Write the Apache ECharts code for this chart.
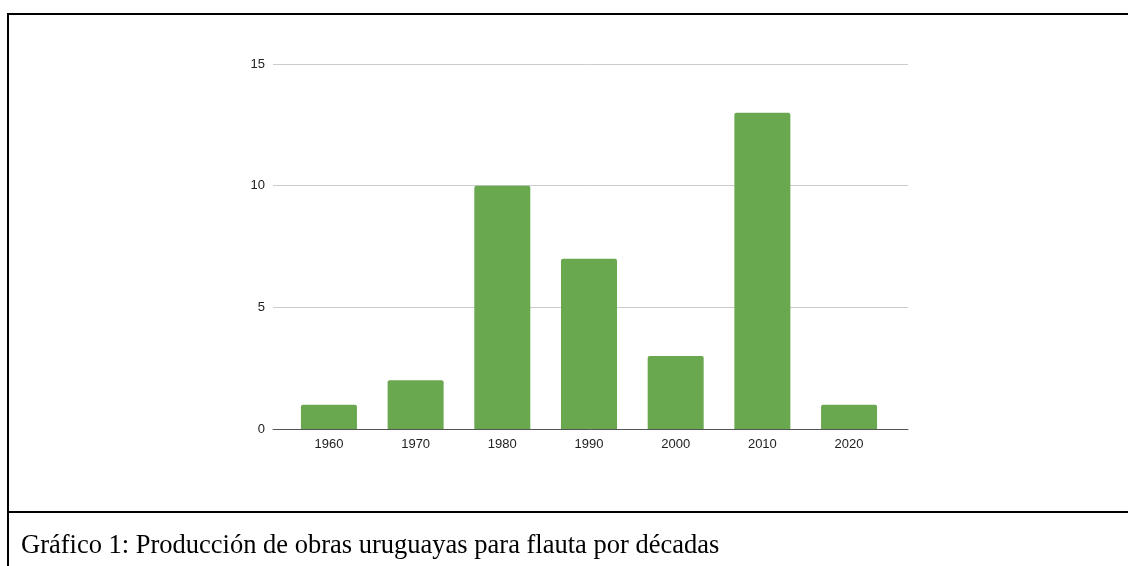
<!DOCTYPE html>
<html>
<head>
<meta charset="utf-8">
<script src="https://cdn.jsdelivr.net/npm/echarts@6/dist/echarts.min.js"></script>
<style>
  html, body { margin: 0; padding: 0; background: #fff; }
  #main { width: 1128px; height: 566px; }
</style>
</head>
<body>
<div id="main"></div>
<script>
// datos: obras por década
var decadas = ['1960', '1970', '1980', '1990', '2000', '2010', '2020'];
var obras = [1, 2, 10, 7, 3, 13, 1];
var ticksY = [0, 5, 10, 15];
var titulo = 'Gráfico 1: Producción de obras uruguayas para flauta por décadas';

var myChart = echarts.init(document.getElementById('main'));

var fuente = { color: '#222', fontSize: 13, fontFamily: 'Liberation Sans' };

var option = {
    animation: false,
    backgroundColor: '#fff',
    // grid 0: líneas de fondo y eje; grid 1: barras (con márgenes como en Sheets)
    grid: [
        { left: 273, right: 220, top: 64, bottom: 137 },
        { left: 285.6, right: 235.6, top: 64, bottom: 137 }
    ],
    xAxis: [{
        type: 'category',
        gridIndex: 0,
        data: decadas,
        axisLine: { lineStyle: { color: '#555', width: 1 } },
        axisTick: { show: false },
        axisLabel: { show: false }
    }, {
        type: 'category',
        gridIndex: 1,
        data: decadas,
        axisLine: { show: false },
        axisTick: { show: false },
        axisLabel: Object.assign({ margin: 9 }, fuente)
    }],
    yAxis: [{
        type: 'value',
        gridIndex: 0,
        min: ticksY[0],
        max: ticksY[ticksY.length - 1],
        interval: 5,
        axisLine: { show: false },
        axisTick: { show: false },
        axisLabel: Object.assign({ margin: 8 }, fuente),
        splitLine: { lineStyle: { color: '#cccccc' } }
    }, {
        type: 'value',
        gridIndex: 1,
        min: ticksY[0],
        max: ticksY[ticksY.length - 1],
        interval: 5,
        show: false
    }],
    series: [{
        type: 'bar',
        xAxisIndex: 1,
        yAxisIndex: 1,
        data: obras,
        barWidth: 56,
        itemStyle: { color: '#6aa84f', borderRadius: [2, 2, 0, 0] }
    }],
    graphic: [
        // marco de la tabla
        { type: 'line', shape: { x1: 7, y1: 14, x2: 1128, y2: 14 }, style: { stroke: '#000', lineWidth: 2 } },
        { type: 'line', shape: { x1: 8, y1: 13, x2: 8, y2: 566 }, style: { stroke: '#000', lineWidth: 2 } },
        { type: 'line', shape: { x1: 7, y1: 512, x2: 1128, y2: 512 }, style: { stroke: '#000', lineWidth: 2 } },
        {
            type: 'text', left: 21, top: 533,
            style: { text: titulo, fill: '#000', font: '26.5px "Liberation Serif"' }
        }
    ]
};

myChart.setOption(option);
</script>
</body>
</html>
